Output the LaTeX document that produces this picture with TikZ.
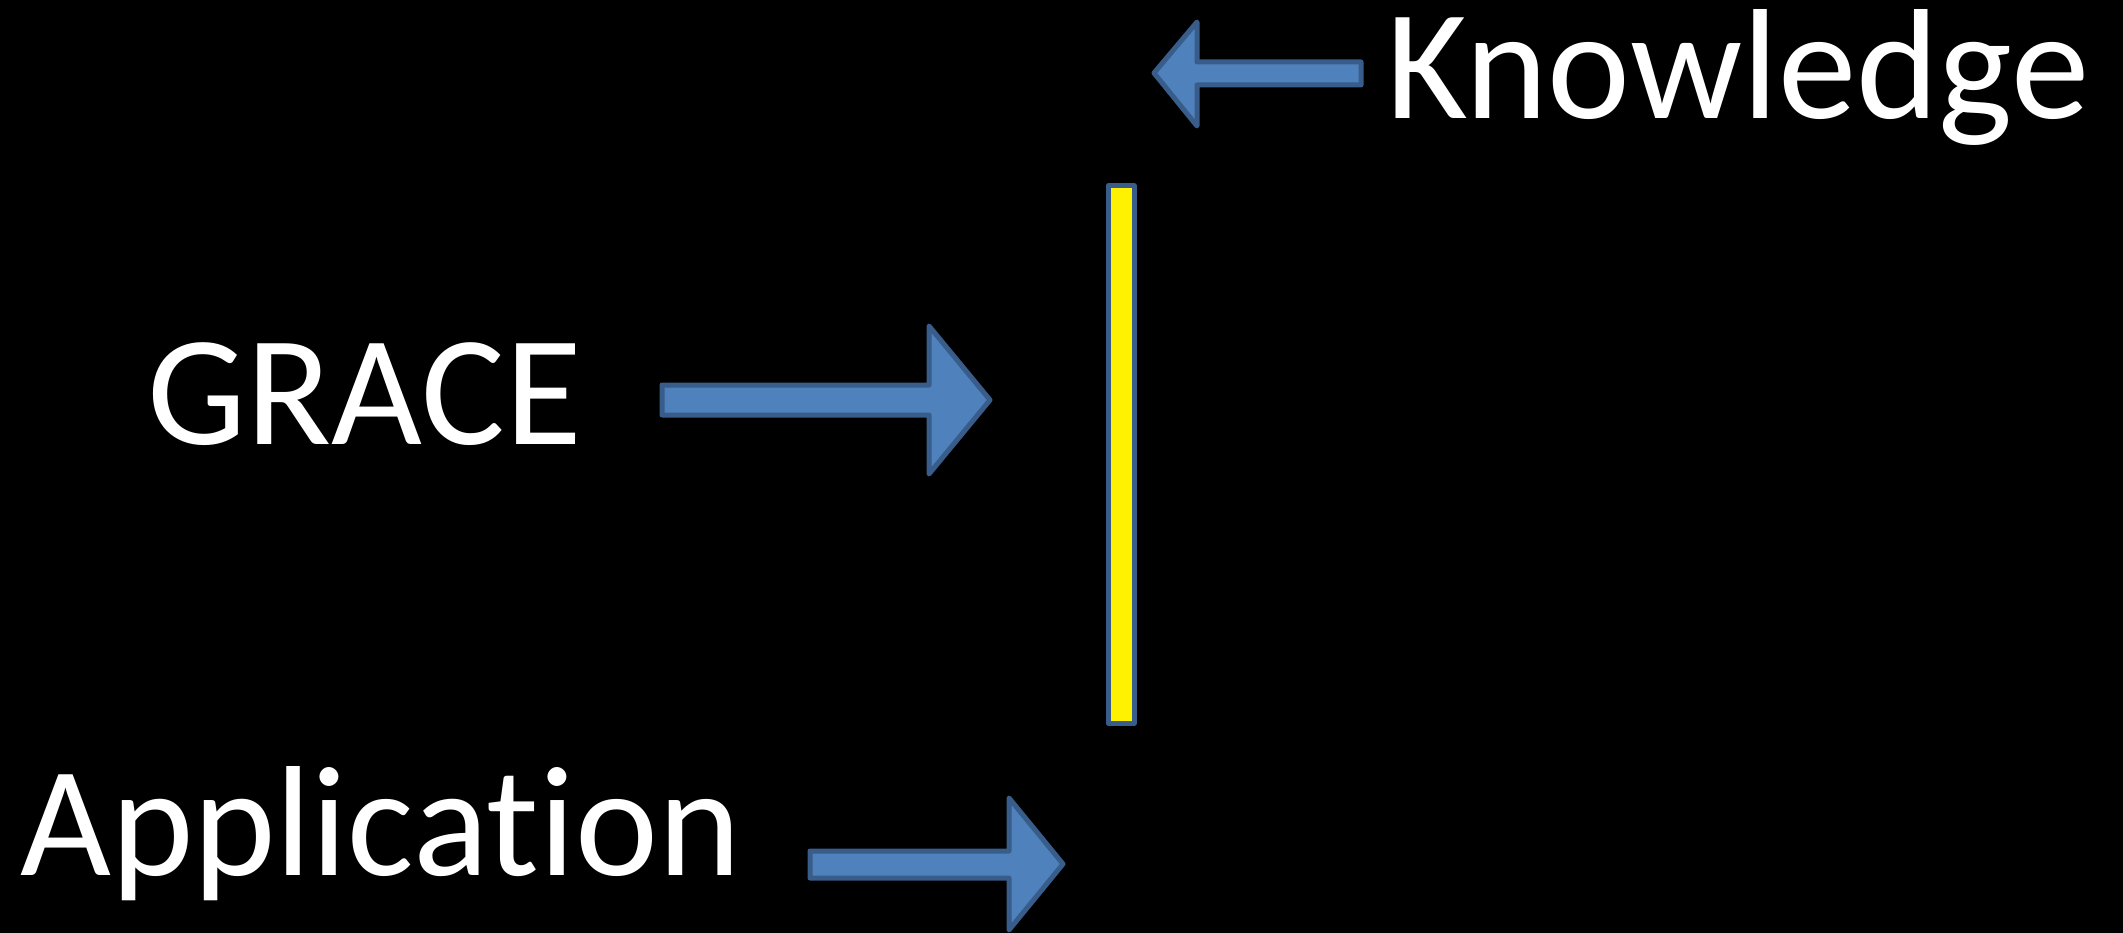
\documentclass[tikz,border=0pt]{standalone}
\usepackage{fontspec}
\setmainfont[Ligatures={NoCommon}]{Carlito}
\begin{document}
\begin{tikzpicture}[x=1pt,y=-1pt,
  blockarrow/.style={fill={rgb,255:red,79;green,129;blue,189},draw={rgb,255:red,56;green,93;blue,138},line width=5pt,line join=round},
  barbox/.style={fill=yellow,draw={rgb,255:red,56;green,93;blue,138},line width=5pt,line join=round},
  label/.style={text=white,anchor=base west,inner sep=0pt,font=\fontsize{157}{160}\selectfont}]
\fill[black] (0,0) rectangle (2123,933);
\useasboundingbox (0,0) rectangle (2123,933);
% Knowledge arrow (pointing left)
\draw[blockarrow] (1154,73) -- (1197,22) -- (1197,62) -- (1361,62) -- (1361,85) -- (1197,85) -- (1197,126) -- cycle;
\node[label] (knowledge) at (1386,119) {Knowledge};
% yellow bar
\draw[barbox] (1108,186) rectangle (1134,723);
% GRACE
\node[label] (grace) at (147,444) {GRACE};
\draw[blockarrow] (662,385) -- (929,385) -- (929,326) -- (990,400) -- (929,474) -- (929,415) -- (662,415) -- cycle;
% Application
\node[label] (application) at (20,875) {Application};
\draw[blockarrow] (810,851) -- (1009,851) -- (1009,798) -- (1063,864) -- (1009,930) -- (1009,878) -- (810,878) -- cycle;
\end{tikzpicture}
\end{document}
